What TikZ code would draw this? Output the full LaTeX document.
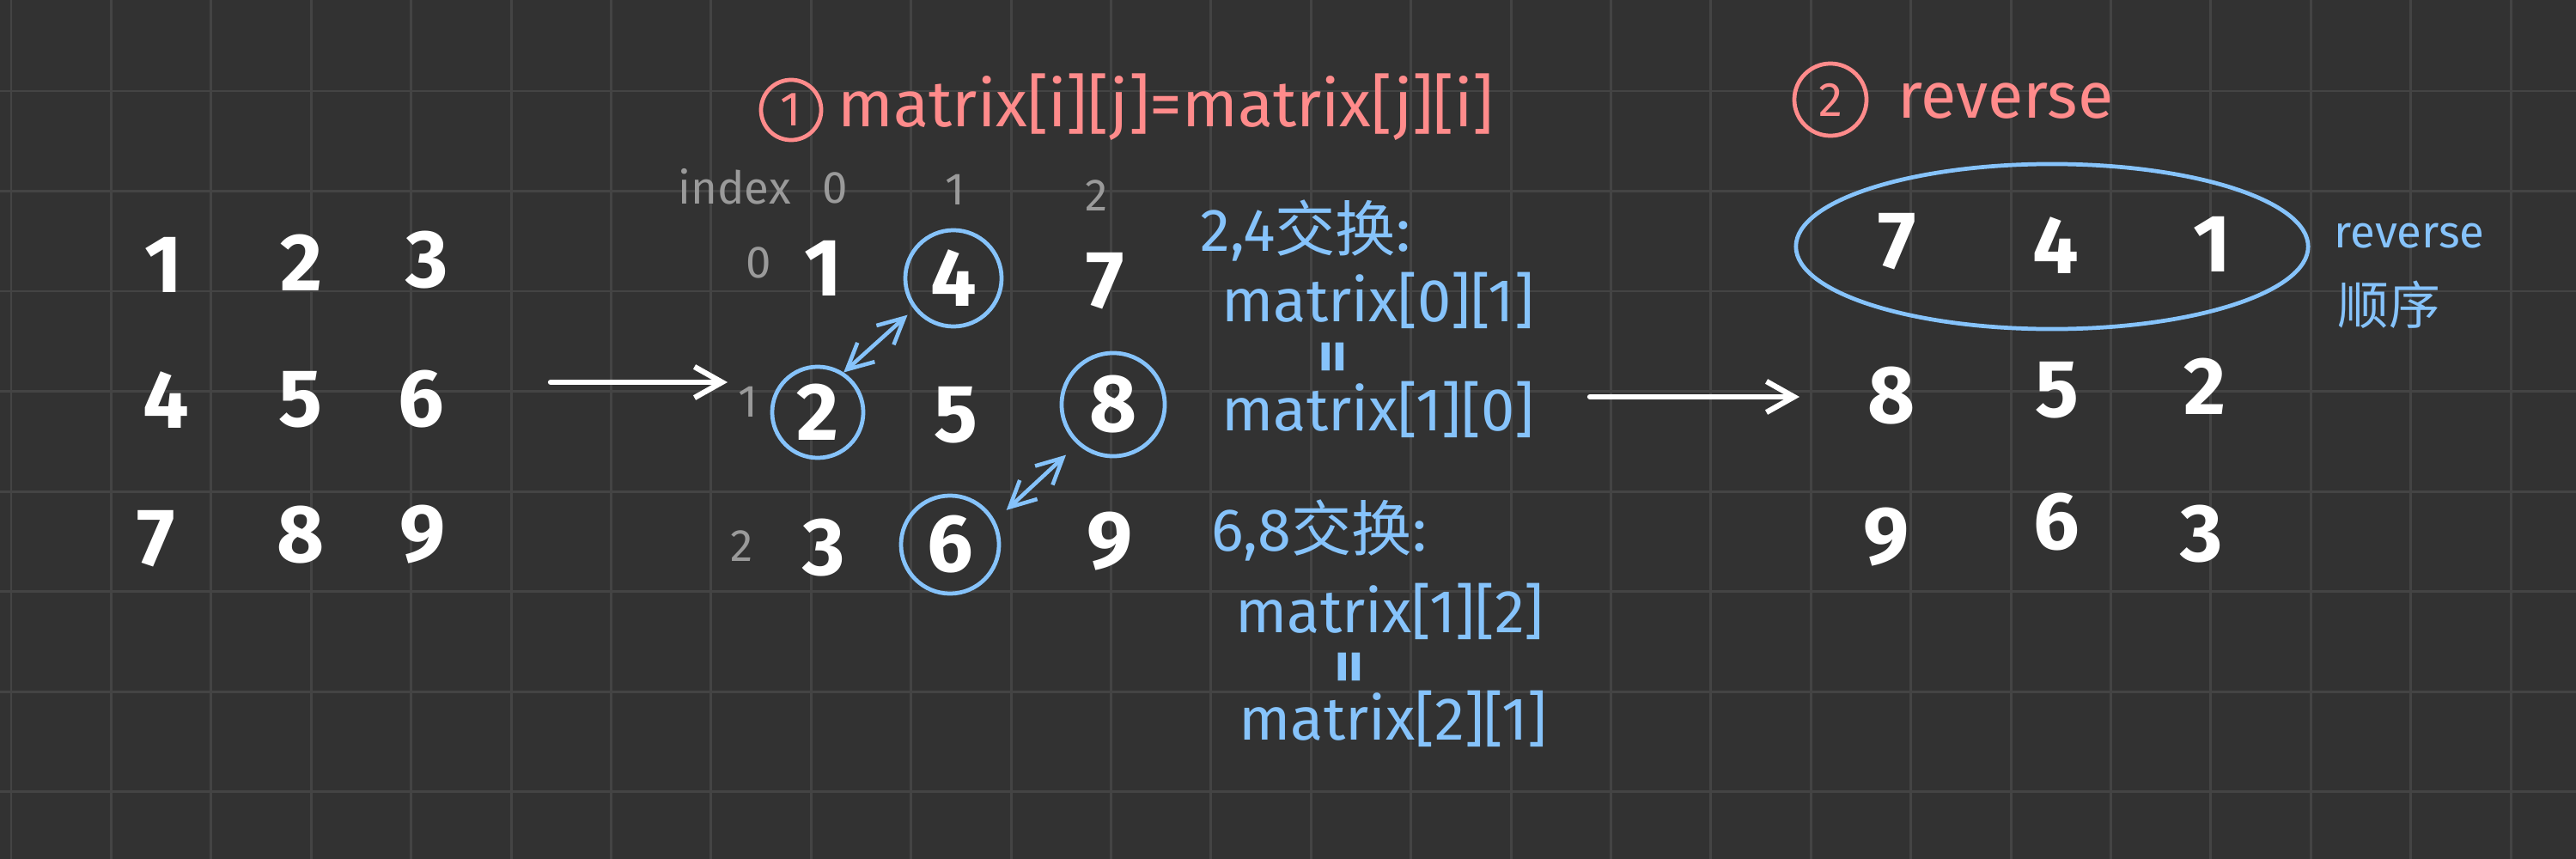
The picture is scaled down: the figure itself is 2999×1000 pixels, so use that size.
\documentclass[tikz,border=0pt]{standalone}
\usepackage{fontspec}
\setmainfont{Fira Sans}
\newfontfamily\cjk{Noto Sans CJK SC}
\usepackage{tikz}
\usetikzlibrary{arrows.meta,positioning,shapes.geometric}
\definecolor{board}{HTML}{323232}
\definecolor{rulegray}{HTML}{444444}
\definecolor{rose}{HTML}{FF8B8B}
\definecolor{sky}{HTML}{86C3FB}
\definecolor{ash}{HTML}{9A9A9A}
\tikzset{
  cell/.style={text=white, font=\fontsize{27}{30}\selectfont\bfseries, inner sep=0pt},
  idx/.style={text=ash, font=\fontsize{15}{18}\selectfont, inner sep=0pt},
  ring/.style={cell, circle, draw=sky, line width=1.35pt},
  note/.style={text=sky, font=\fontsize{20}{24}\selectfont, anchor=west, inner sep=0pt},
  eqsign/.style={text=sky, font=\fontsize{22}{24}\selectfont\bfseries, rotate=90, inner sep=0pt},
  headline/.style={text=rose, font=\fontsize{21.5}{26}\selectfont, anchor=west, inner sep=0pt},
  badge/.style={circle, draw=rose, text=rose, line width=1.35pt, inner sep=0pt, font=\fontsize{16}{18}\selectfont},
  flow/.style={-{Straight Barb[length=3.2mm,width=3.6mm]}, draw=white, line width=1.8pt, line cap=round},
  swaplink/.style={{Straight Barb[length=3mm,width=3mm]}-{Straight Barb[length=3mm,width=3mm]}, draw=sky, line width=1.3pt, line cap=round},
  gridline/.style={draw=rulegray, line width=0.85pt}
}
\begin{document}
\begin{tikzpicture}[x=0.01cm, y=-0.01cm]
  \useasboundingbox (0,0) rectangle (2999,1000);
  \fill[board] (0,0) rectangle (2999,1000);
  \foreach \k in {0,...,25} \draw[gridline] ({13+116.4*\k},0) -- ({13+116.4*\k},1000);
  \foreach \k in {1,...,8} \draw[gridline] (0,{-10.5+116.5*\k}) -- (2999,{-10.5+116.5*\k});

  % original matrix
  \node[cell] (a11) at (191,308) {1};
  \node[cell] (a12) at (351,306) {2};
  \node[cell] (a13) at (497,303) {3};
  \node[cell] (a21) at (193,466) {4};
  \node[cell] (a22) at (350,465) {5};
  \node[cell] (a23) at (490,465) {6};
  \node[cell] (a31) at (182,627) {7};
  \node[cell] (a32) at (350,623) {8};
  \node[cell] (a33) at (492,622) {9};

  \coordinate (goA) at (641,445);
  \coordinate (goAend) at (847,445);
  \draw[flow] (goA) -- (goAend);

  % step 1: transpose
  \node[badge, minimum size=0.7cm] (stepOne) at (921,128) {1};
  \node[headline] (stepOneTxt) at (975,125) {matrix[i][j]=matrix[j][i]};

  \node[idx] (idxWord) at (855,217) {index};
  \node[idx] (col0) at (972,219) {0};
  \node[idx] (col1) at (1112,221) {1};
  \node[idx] (col2) at (1277,228) {2};
  \node[idx] (row0) at (883,306) {0};
  \node[idx] (row1) at (871,468) {1};
  \node[idx] (row2) at (864,636) {2};

  \node[cell] (b11) at (959,312) {1};
  \node[ring, minimum size=1.12cm] (b12) at (1110,324) {4};
  \node[cell] (b13) at (1287,327) {7};
  \node[ring, minimum size=1.06cm] (b21) at (952,480) {2};
  \node[cell] (b22) at (1113,483) {5};
  \node[ring, minimum size=1.2cm] (b23) at (1296,471) {8};
  \node[cell] (b31) at (959,638) {3};
  \node[ring, minimum size=1.14cm] (b32) at (1106,634) {6};
  \node[cell] (b33) at (1292,630) {9};

  \draw[swaplink, shorten >=0.1cm] (b21.57) -- (b12.218);
  \draw[swaplink, shorten <=0.18cm, shorten >=0.18cm] (b32.28) -- (b23.228);

  \node[note] (swapA) at (1397,268) {2,4{\cjk 交换}:};
  \node[note] (swapAtop) at (1422,350) {matrix[0][1]};
  \node[eqsign] (swapAeq) at (1558,415) {=};
  \node[note] (swapAbot) at (1422,477) {matrix[1][0]};
  \node[note] (swapB) at (1410,617) {6,8{\cjk 交换}:};
  \node[note] (swapBtop) at (1438,712) {matrix[1][2]};
  \node[eqsign] (swapBeq) at (1577,776) {=};
  \node[note] (swapBbot) at (1442,837) {matrix[2][1]};

  \coordinate (goB) at (1851,462);
  \coordinate (goBend) at (2095,462);
  \draw[flow] (goB) -- (goBend);

  % step 2: reverse rows
  \node[badge, minimum size=0.84cm] (stepTwo) at (2131,116) {2};
  \node[headline] (stepTwoTxt) at (2209,118) {reverse};

  \node[cell] (c11) at (2209,281) {7};
  \node[cell] (c12) at (2393,286) {4};
  \node[cell] (c13) at (2576,284) {1};
  \node[cell] (c21) at (2202,461) {8};
  \node[cell] (c22) at (2395,454) {5};
  \node[cell] (c23) at (2567,450) {2};
  \node[cell] (c31) at (2196,625) {9};
  \node[cell] (c32) at (2394,608) {6};
  \node[cell] (c33) at (2563,622) {3};

  \node[ellipse, draw=sky, line width=1.35pt, minimum width=5.96cm, minimum height=1.92cm] (revRow) at (2389,287) {};
  \node[note, font=\fontsize{15}{18}\selectfont] (revNote) at (2717,275) {reverse};
  \node[note, font=\cjk\fontsize{17}{20}\selectfont] (revNoteCn) at (2721,355) {顺序};
\end{tikzpicture}
\end{document}
